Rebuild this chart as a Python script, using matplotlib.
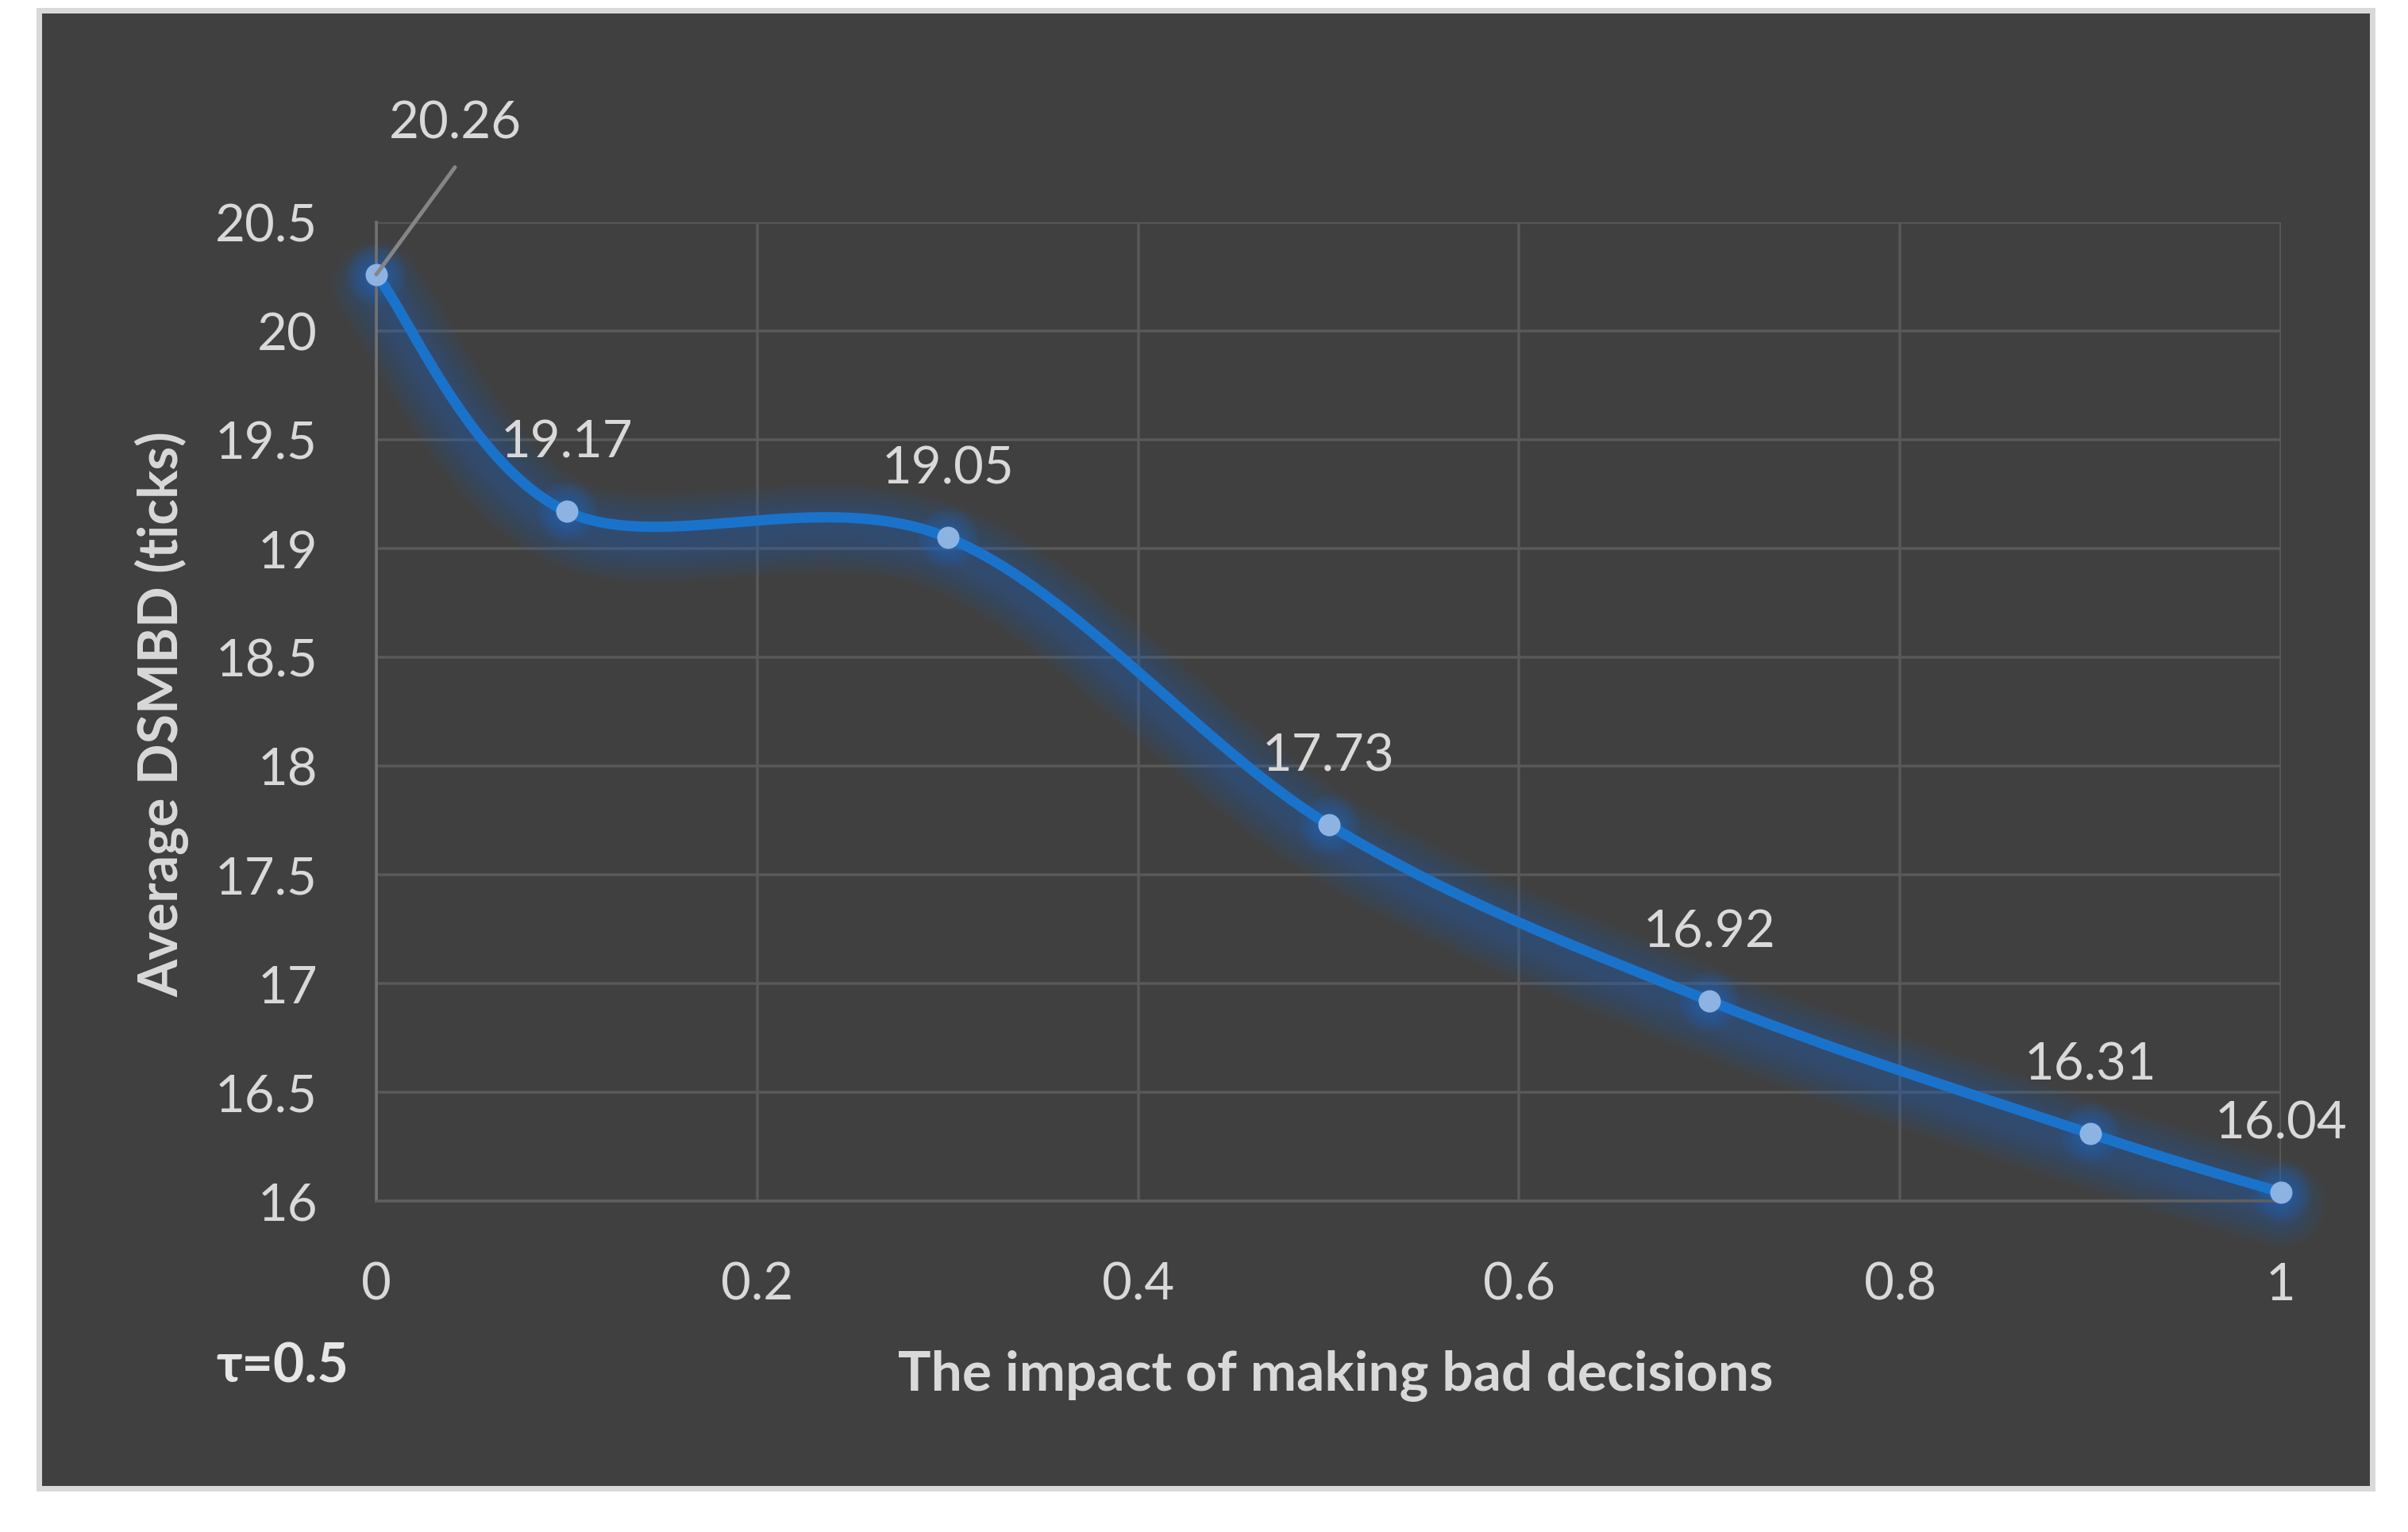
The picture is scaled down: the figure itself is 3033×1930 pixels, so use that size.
import numpy as np
import matplotlib
matplotlib.use("Agg")
import matplotlib.pyplot as plt
from matplotlib.patches import Rectangle
from matplotlib.transforms import ScaledTranslation

# ---- data ----
impact = [0, 0.1, 0.3, 0.5, 0.7, 0.9, 1.0]
avg_dsmbd = [20.26, 19.17, 19.05, 17.73, 16.92, 16.31, 16.04]
x_ticks = [0, 0.2, 0.4, 0.6, 0.8, 1.0]
x_ticklabels = ["0", "0.2", "0.4", "0.6", "0.8", "1"]
y_ticks = [16, 16.5, 17, 17.5, 18, 18.5, 19, 19.5, 20, 20.5]
y_ticklabels = ["16", "16.5", "17", "17.5", "18", "18.5", "19", "19.5", "20", "20.5"]
x_title = "The impact of making bad decisions"
y_title = "Average DSMBD (ticks)"
note = "τ=0.5"

W, H = 3033, 1931
DPI = 100
PT = 72 / DPI  # points per pixel
FONT = ["Lato", "Noto Sans", "DejaVu Sans"]
plt.rcParams["font.family"] = FONT

fig = plt.figure(figsize=(W / DPI, H / DPI), dpi=DPI, facecolor="white")

def fx(px):
    return px / W

def fy(py):
    return 1 - py / H

# chart frame
frame = Rectangle((fx(48.5), fy(1875.5)), fx(2987.5) - fx(48.5), fy(13.5) - fy(1875.5),
                  transform=fig.transFigure, facecolor="#404040", edgecolor="#d9d9d9",
                  linewidth=7 * PT, zorder=-10)
fig.patches.append(frame)

L, R, T, B = 474, 2873, 281, 1514
ax = fig.add_axes([fx(L), fy(B), fx(R) - fx(L), fy(T) - fy(B)])
ax.set_zorder(5)
ax.set_facecolor("none")
ax.set_xlim(0, 1)
ax.set_ylim(16, 20.5)
ax.set_xticks(x_ticks)
ax.set_xticklabels(x_ticklabels)
ax.set_yticks(y_ticks)
ax.set_yticklabels(y_ticklabels)
ax.tick_params(length=0, labelsize=47, labelcolor="#d9d9d9")
ax.tick_params(axis="x", pad=76 * PT)
ax.tick_params(axis="y", pad=74 * PT)
ax.grid(True, color="#595959", linewidth=3.5 * PT)
ax.set_axisbelow(True)
for s in ["top", "right"]:
    ax.spines[s].set_visible(False)
ax.spines["left"].set_color("#727272")
ax.spines["left"].set_linewidth(3.5 * PT)
ax.spines["bottom"].set_color("#5f5f5f")
ax.spines["bottom"].set_linewidth(3.5 * PT)

# Excel-style smoothed curve (Catmull-Rom Bezier)
P = np.column_stack([impact, avg_dsmbd]).astype(float)
n = len(P)
curve = []
for i in range(n - 1):
    p0 = P[i - 1] if i > 0 else P[i]
    p1 = P[i]
    p2 = P[i + 1]
    p3 = P[i + 2] if i + 2 < n else P[i + 1]
    c1 = p1 + (p2 - p0) / 6
    c2 = p2 - (p3 - p1) / 6
    t = np.linspace(0, 1, 80)[:, None]
    seg = ((1 - t) ** 3) * p1 + 3 * ((1 - t) ** 2) * t * c1 + 3 * (1 - t) * t ** 2 * c2 + t ** 3 * p2
    curve.append(seg if i == 0 else seg[1:])
curve = np.vstack(curve)

# glow (soft shadow)
off = ScaledTranslation(0, -14 / DPI, fig.dpi_scale_trans)
for i in range(1, 11):
    ax.plot(curve[:, 0], curve[:, 1], color="#1f6fd1", lw=(12 + 10 * i) * PT, alpha=0.045,
            solid_capstyle="round", solid_joinstyle="round", transform=ax.transData + off,
            clip_on=False, zorder=2)
for i in range(1, 7):
    ax.plot(impact, avg_dsmbd, "o", color="#1f6fd1", ms=(28 + 8 * i) * PT, mew=0,
            alpha=0.08, clip_on=False, zorder=2)

ax.plot(curve[:, 0], curve[:, 1], color="#1a73cb", lw=13 * PT, solid_capstyle="round",
        clip_on=False, zorder=3)
ax.plot(impact, avg_dsmbd, "o", color="#8db3e2", ms=28 * PT, mew=0, clip_on=False, zorder=4)

# data labels
for i, (xv, yv) in enumerate(zip(impact, avg_dsmbd)):
    lab = f"{yv:.2f}"
    if i == 0:
        ax.annotate("", xy=(xv, yv), xytext=(99 * PT, 135 * PT), textcoords="offset points",
                    arrowprops=dict(arrowstyle="-", color="#858585", lw=5 * PT,
                                    shrinkA=0, shrinkB=0), zorder=5, annotation_clip=False)
        ax.annotate(lab, xy=(xv, yv), xytext=(99 * PT, 191 * PT), textcoords="offset points",
                    ha="center", va="center", fontsize=47, color="#d9d9d9",
                    zorder=6, annotation_clip=False)
    else:
        ax.annotate(lab, xy=(xv, yv), xytext=(0, 87 * PT), textcoords="offset points",
                    ha="center", va="center", fontsize=47, color="#d9d9d9",
                    zorder=6, annotation_clip=False)

# titles
fig.text(fx(1682), fy(1734), x_title, ha="center", va="center", fontsize=50,
         fontweight="bold", color="#d9d9d9")
fig.text(fx(204), fy(900), y_title, ha="center", va="center", fontsize=49,
         fontweight="bold", color="#d9d9d9", rotation=90)
fig.text(fx(272), fy(1722), note, ha="left", va="center", fontsize=49,
         fontweight="bold", color="#e6e6e6", family=FONT)

fig.savefig("out.png", dpi=DPI, facecolor="white")
